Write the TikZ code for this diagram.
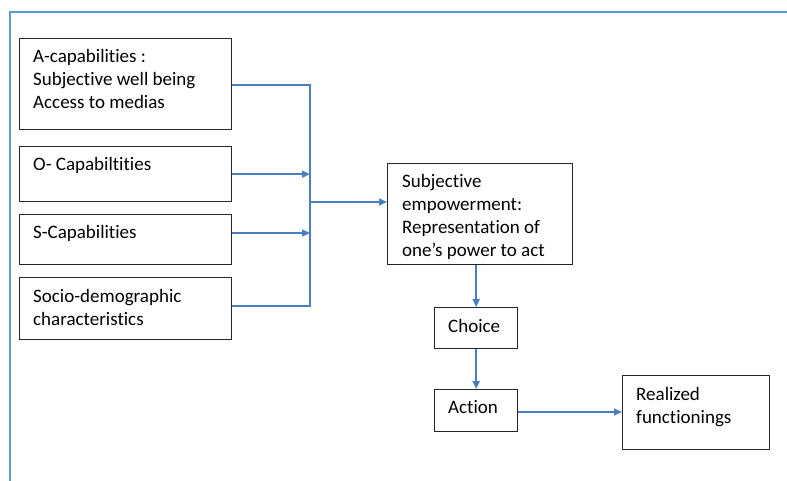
\documentclass[tikz,border=0pt]{standalone}
\usepackage{fontspec}
\setmainfont[Ligatures=NoCommon]{Carlito}
\usetikzlibrary{calc,arrows.meta}
\definecolor{frameblue}{HTML}{5B9BD5}
\definecolor{arrblue}{HTML}{4A7EC0}
\tikzset{
  box/.style={draw=black!85, line width=1.4pt, rectangle, inner sep=0pt, anchor=north west},
  txt/.style={anchor=base west, inner sep=0pt, font=\fontsize{19}{23}\selectfont},
  conn/.style={draw=arrblue, line width=1.5pt},
  arr/.style={conn, -{Triangle[length=8pt,width=7pt]}},
}
\newcommand{\boxtext}[1]{\parbox[t]{8cm}{\raggedright #1}}
\begin{document}
\begin{tikzpicture}[x=1pt,y=-1pt]
\useasboundingbox (0,0) rectangle (787,481);
\draw[draw=frameblue, line width=2.2pt] (795,12) -- (10,12) -- (10,490);
% boxes
\node[box, minimum width=212pt, minimum height=91pt] (A) at (19,38) {};
\node[box, minimum width=212pt, minimum height=55pt] (O) at (19,146) {};
\node[box, minimum width=212pt, minimum height=50pt] (S) at (19,214) {};
\node[box, minimum width=212pt, minimum height=62pt] (D) at (19,277) {};
\node[box, minimum width=185pt, minimum height=101pt] (E) at (387,163) {};
\node[box, minimum width=83pt, minimum height=41pt] (C) at (434,307) {};
\node[box, minimum width=83pt, minimum height=42pt] (Ac) at (434,389) {};
\node[box, minimum width=147pt, minimum height=74pt] (R) at (622,375) {};
% texts
\node[txt] (tA) at ($(A.north west)+(14,25)$) {\boxtext{A-capabilities :\\Subjective well being\\Access to medias}};
\node[txt] (tO) at ($(O.north west)+(14,25)$) {\boxtext{O- Capabiltities}};
\node[txt] (tS) at ($(S.north west)+(14,25)$) {\boxtext{S-Capabilities}};
\node[txt] (tD) at ($(D.north west)+(14,25)$) {\boxtext{Socio-demographic\\characteristics}};
\node[txt] (tE) at ($(E.north west)+(15,25)$) {\boxtext{Subjective\\empowerment:\\Representation of\\one’s power to act}};
\node[txt] (tC) at ($(C.north west)+(14,25)$) {\boxtext{Choice}};
\node[txt] (tAc) at ($(Ac.north west)+(14,24)$) {\boxtext{Action}};
\node[txt] (tR) at ($(R.north west)+(14,25)$) {\boxtext{Realized\\functionings}};
% connectors
\coordinate (top) at (310,85);
\coordinate (bot) at (310,306);
\coordinate (mid) at (310,202);
\draw[conn] (A.east |- top) -- (top) -- (bot) -- (D.east |- bot);
\draw[arr] (O.east) -- (O.east -| top);
\draw[arr] (S.east |- 0,233) -- (310,233);
\draw[arr] (mid) -- (mid -| E.west);
\draw[arr] (E.south -| C.north) -- (C.north);
\draw[arr] (C.south) -- (Ac.north);
\draw[arr] (Ac.east |- 0,412) -- (R.west |- 0,412);
\end{tikzpicture}
\end{document}
